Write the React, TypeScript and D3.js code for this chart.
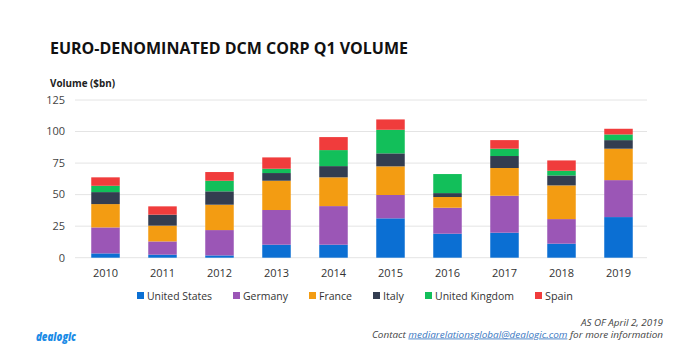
import React from "react";
import * as d3 from "d3";

const years = ["2010", "2011", "2012", "2013", "2014", "2015", "2016", "2017", "2018", "2019"];
const countries = ["United States", "Germany", "France", "Italy", "United Kingdom", "Spain"];
const colors = ["#0b6fd3", "#9b56b6", "#f39c12", "#333d50", "#12bf5a", "#f03c3c"];

// $bn per country, per year
const unitedStates = [3.4, 2.4, 1.8, 10.3, 10.3, 31.2, 19.0, 19.8, 11.1, 32.2];
const germany = [20.6, 10.5, 20.1, 27.5, 30.6, 18.5, 20.6, 29.3, 19.5, 29.3];
const france = [18.5, 12.5, 20.1, 23.2, 22.8, 22.7, 8.5, 22.0, 26.7, 24.9];
const italy = [9.5, 8.7, 10.6, 6.1, 8.9, 10.3, 3.1, 9.5, 7.9, 6.8];
const unitedKingdom = [5.0, 0, 8.4, 3.4, 12.7, 18.7, 15.1, 5.8, 3.7, 4.5];
const spain = [6.7, 6.6, 6.9, 9.0, 10.3, 8.2, 0, 6.8, 8.2, 4.5];

const yTicks = [0, 25, 50, 75, 100, 125];

const W = 700;
const H = 364;
const font = "'Open Sans', 'Noto Sans', sans-serif";

export default function App() {
  const series = [unitedStates, germany, france, italy, unitedKingdom, spain];
  const rows = years.map((yr, i) => {
    const r: any = { year: yr };
    countries.forEach((c, k) => (r[c] = series[k][i]));
    return r;
  });
  const stacked = d3.stack().keys(countries)(rows);

  const x = d3.scaleBand().domain(years).range([77, 647]).paddingInner(0.5).paddingOuter(0.25);
  const y = d3.scaleLinear().domain([0, 125]).range([257.7, 100]);

  // legend layout: square, gap, label, gap
  const legendW = [65, 45, 33, 21, 79, 28];
  let lx = 137;
  const legend = countries.map((c, i) => {
    const item = { c, x: lx, w: legendW[i], color: colors[i] };
    lx += 7 + 3 + legendW[i] + 21;
    return item;
  });

  return (
    <svg width={W} height={H} style={{ position: "absolute", left: 0, top: 0, background: "#fff" }}>
      <text x={50} y={54} fontFamily={font} fontWeight={700} fontSize={16} fill="#111"
        textLength={358} lengthAdjust="spacingAndGlyphs">
        EURO-DENOMINATED DCM CORP Q1 VOLUME
      </text>
      <text x={50} y={87} fontFamily={font} fontWeight={700} fontSize={10.5} fill="#222"
        textLength={65} lengthAdjust="spacingAndGlyphs">
        Volume ($bn)
      </text>

      {yTicks.map((t) => (
        <g key={t}>
          <line x1={75} x2={647} y1={y(t)} y2={y(t)} stroke="#e4e4e4" strokeWidth={1} />
          <text x={65} y={y(t)} dy="0.35em" textAnchor="end" fontFamily={font} fontSize={11} fill="#444">
            {t}
          </text>
        </g>
      ))}

      {stacked.map((s, k) => (
        <g key={s.key} fill={colors[k]}>
          {s.map((d, i) => (
            <rect key={i} x={x(years[i])} width={x.bandwidth()} y={y(d[1])}
              height={Math.max(0, y(d[0]) - y(d[1]))} />
          ))}
        </g>
      ))}

      {years.map((yr) => (
        <text key={yr} x={(x(yr) as number) + x.bandwidth() / 2} y={277} textAnchor="middle"
          fontFamily={font} fontSize={11} fill="#333">
          {yr}
        </text>
      ))}

      {legend.map((l) => (
        <g key={l.c}>
          <rect x={l.x} y={292} width={7} height={7} fill={l.color} />
          <text x={l.x + 10} y={299.5} fontFamily={font} fontSize={11.5} fill="#333"
            textLength={l.w} lengthAdjust="spacingAndGlyphs">
            {l.c}
          </text>
        </g>
      ))}

      <text x={36} y={341} fontFamily={font} fontWeight={800} fontStyle="italic" fontSize={13}
        fill="#1a8be6" textLength={40} lengthAdjust="spacingAndGlyphs">
        dealogic
      </text>

      <text x={663} y={325.5} textAnchor="end" fontFamily={font} fontStyle="italic" fontSize={8.5}
        fill="#444" textLength={82} lengthAdjust="spacingAndGlyphs">
        AS OF April 2, 2019
      </text>
      <text x={663} y={337.5} textAnchor="end" fontFamily={font} fontStyle="italic" fontSize={8.5}
        fill="#444" textLength={291} lengthAdjust="spacingAndGlyphs">
        Contact <tspan fill="#3a78c2" textDecoration="underline">mediarelationsglobal@dealogic.com</tspan> for more information
      </text>
    </svg>
  );
}
